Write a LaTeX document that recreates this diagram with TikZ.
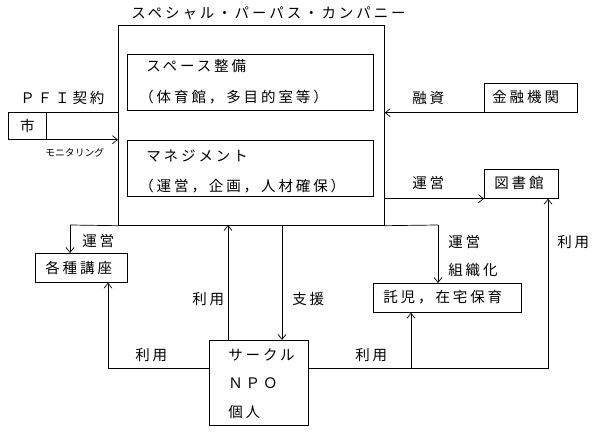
\documentclass[tikz,border=0pt]{standalone}
\usepackage{fontspec}
\newfontfamily\jp[LetterSpace=20]{Noto Sans CJK JP}
\newfontfamily\jpsmall{Noto Sans CJK JP}
\usetikzlibrary{arrows.meta}
\begin{document}
\begin{tikzpicture}[x=1pt,y=-1pt,
  font=\jp\fontsize{14.5}{16}\selectfont,
  line width=0.7pt,
  box/.style={draw, inner sep=0pt, anchor=north west},
  lbl/.style={inner sep=0pt, anchor=west},
  arr/.style={-{Straight Barb[length=5pt,width=8pt]}}]
\useasboundingbox (0,0) rectangle (600,435);

% title and main box
\node[lbl] (title) at (131,13) {スペシャル・パーパス・カンパニー};
\node[box, minimum width=266pt, minimum height=200pt] (spc) at (118,25) {};

% inner boxes
\node[box, minimum width=246pt, minimum height=56pt] (space) at (127,54) {};
\node[lbl] (space1) at (146,66) {スペース整備};
\node[lbl] (space2) at (139,97) {（体育館，多目的室等）};
\node[box, minimum width=246pt, minimum height=56pt] (mgmt) at (127,140) {};
\node[lbl] (mgmt1) at (146,156) {マネジメント};
\node[lbl] (mgmt2) at (139,186) {（運営，企画，人材確保）};

% city
\node[box, minimum width=38pt, minimum height=27pt] (city) at (8,112) {市};
\draw (city.north east) -- (spc.west |- city.north);
\draw[arr] (city.south east) -- (spc.west |- city.south);
\node[lbl] (pfi) at (20,98) {ＰＦＩ契約};
\node[lbl, font=\jpsmall\fontsize{9.8}{11}\selectfont] (mon) at (45,153) {モニタリング};

% finance
\node[box, minimum width=93pt, minimum height=29pt] (fin) at (484,83) {};
\node[lbl] (fint) at (492,97.5) {金融機関};
\draw[arr] (fin.south west) -- (spc.east |- fin.south);
\node[lbl] (yushi) at (412,98) {融資};

% library
\node[box, minimum width=74pt, minimum height=29pt] (lib) at (484,169) {};
\node[lbl] (libt) at (494,183.5) {図書館};
\draw[arr] (spc.east |- lib.south) -- (lib.south west);
\node[lbl] (unei1) at (412,183) {運営};

% bottom line
\coordinate (botL) at (70,225);
\coordinate (botR) at (438,225);
\draw (botL) -- (spc.south west);
\draw (spc.south east) -- (botR);

% kouza
\node[box, minimum width=92pt, minimum height=29pt] (kouza) at (35,253) {};
\node[lbl] (kouzat) at (45,267.5) {各種講座};
\draw[arr] (botL) -- (botL |- kouza.north);
\node[lbl] (unei2) at (82,241) {運営};

% takuji
\node[box, minimum width=148pt, minimum height=29pt] (taku) at (373,283) {};
\node[lbl] (takut) at (383,297.5) {託児，在宅保育};
\draw[arr] (botR) -- (botR |- taku.north);
\node[lbl] (unei3) at (448,242) {運営};
\node[lbl] (soshiki) at (448,270) {組織化};

% circle / NPO
\node[box, minimum width=99pt, minimum height=85pt] (circ) at (209,340) {};
\node[lbl] (c1) at (228,355) {サークル};
\node[lbl] (c2) at (228,383) {ＮＰＯ};
\node[lbl] (c3) at (228,412) {個人};

\coordinate (up) at (228,225);
\draw[arr] (up |- circ.north) -- (up);
\node[lbl] (riyo1) at (192,299) {利用};
\coordinate (sien) at (282,225);
\draw[arr] (sien) -- (sien |- circ.north);
\node[lbl] (shien) at (292,299) {支援};

\coordinate (ul) at (108,368);
\draw[arr] (circ.west |- ul) -- (ul) -- (ul |- kouza.south);
\node[lbl] (riyo2) at (135,355) {利用};

\coordinate (ur) at (548,368);
\draw[arr] (circ.east |- ur) -- (ur) -- (ur |- lib.south);
\coordinate (ut) at (411,368);
\draw[arr] (ut) -- (ut |- taku.south);
\node[lbl] (riyo3) at (355,355) {利用};
\node[lbl] (riyo4) at (557,242) {利用};
\end{tikzpicture}
\end{document}
